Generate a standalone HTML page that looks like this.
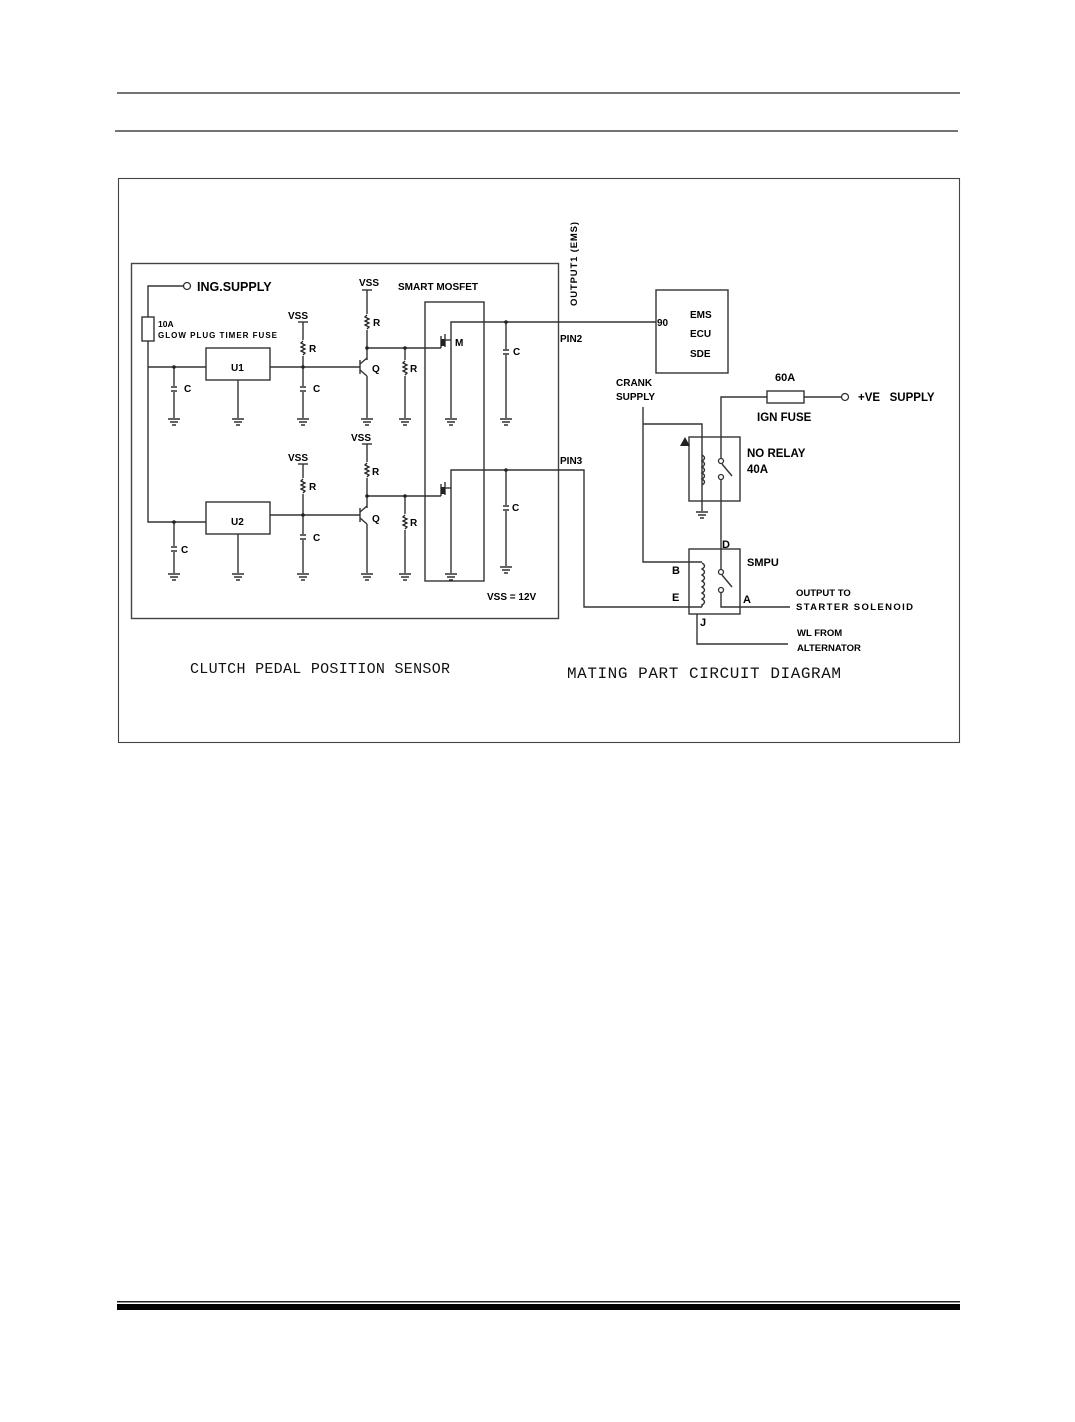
<!DOCTYPE html>
<html><head><meta charset="utf-8"><style>
html,body{margin:0;padding:0;background:#fff;width:1075px;height:1422px;overflow:hidden}
svg{display:block}
text{font-family:"Liberation Sans",sans-serif;font-weight:bold;fill:#000}
.m{font-family:"Liberation Mono",monospace;font-weight:normal;fill:#111}
</style></head><body>
<svg width="1075" height="1422" viewBox="0 0 1075 1422" xmlns="http://www.w3.org/2000/svg">
<defs>
<g id="gnd" stroke="#222" stroke-width="1.4"><line x1="-6" y1="0" x2="6" y2="0"/><line x1="-4" y1="3" x2="4" y2="3"/><line x1="-2" y1="6" x2="2" y2="6"/></g>
<g id="res" fill="none" stroke="#222" stroke-width="1.3"><polyline points="0,-7 -2,-5 2,-3 -2,-1 2,1 -2,3 2,5 0,7"/></g>
<g id="cap" stroke="#222" stroke-width="1.4"><line x1="-3" y1="-2" x2="3" y2="-2"/><line x1="-3" y1="2" x2="3" y2="2"/></g>
</defs>
<line x1="117" y1="93" x2="960" y2="93" stroke="#222" stroke-width="1.2"/>
<line x1="115" y1="131" x2="958" y2="131" stroke="#222" stroke-width="1.2"/>
<rect x="118.5" y="178.5" width="841" height="564" fill="none" stroke="#444" stroke-width="1.1"/>
<rect x="131.5" y="263.5" width="427" height="355" fill="none" stroke="#444" stroke-width="1.4"/>

<g stroke="#333" stroke-width="1.4" fill="none">
<polyline points="183,286 148,286 148,522 206,522"/>
<rect x="142" y="317" width="12" height="24" fill="#fff"/>
<line x1="148" y1="367" x2="206" y2="367"/>
<rect x="206" y="348" width="64" height="32"/>
<line x1="174" y1="367" x2="174" y2="418"/>
<line x1="238" y1="380" x2="238" y2="418"/>
<line x1="270" y1="367" x2="360" y2="367"/>
<line x1="303" y1="322" x2="303" y2="418"/>
<line x1="298" y1="322" x2="308" y2="322"/>
<line x1="367" y1="290" x2="367" y2="360"/>
<line x1="362" y1="290" x2="372" y2="290"/>
<line x1="360" y1="360" x2="360" y2="374"/>
<line x1="360" y1="364" x2="367" y2="358"/>
<line x1="360" y1="370" x2="367" y2="376"/>
<line x1="367" y1="376" x2="367" y2="418"/>
<line x1="367" y1="348" x2="441" y2="348"/>
<line x1="405" y1="348" x2="405" y2="418"/>
<polyline points="441,348 441,336"/>
<line x1="445" y1="334" x2="445" y2="347"/>
<polyline points="451,418 451,322 600,322 656,322"/>
<line x1="445" y1="340" x2="451" y2="340"/>
<line x1="506" y1="322" x2="506" y2="418"/>
<rect x="206" y="502" width="64" height="32"/>
<line x1="174" y1="522" x2="174" y2="573"/>
<line x1="238" y1="534" x2="238" y2="573"/>
<line x1="270" y1="515" x2="360" y2="515"/>
<line x1="303" y1="464" x2="303" y2="573"/>
<line x1="298" y1="464" x2="308" y2="464"/>
<line x1="367" y1="444" x2="367" y2="508"/>
<line x1="362" y1="444" x2="372" y2="444"/>
<line x1="360" y1="508" x2="360" y2="522"/>
<line x1="360" y1="512" x2="367" y2="506"/>
<line x1="360" y1="518" x2="367" y2="524"/>
<line x1="367" y1="524" x2="367" y2="573"/>
<line x1="367" y1="496" x2="441" y2="496"/>
<line x1="405" y1="496" x2="405" y2="573"/>
<polyline points="441,496 441,484"/>
<line x1="445" y1="482" x2="445" y2="495"/>
<polyline points="451,573 451,470 584,470 584,607 702,607"/>
<line x1="445" y1="488" x2="451" y2="488"/>
<line x1="506" y1="470" x2="506" y2="566"/>
<rect x="425" y="302" width="59" height="279"/>
<rect x="656" y="290" width="72" height="83"/>
<polyline points="643,407 643,562 702,562"/>
<polyline points="643,424 702,424 702,511"/>
<rect x="689" y="437" width="51" height="64"/>
<rect x="689" y="549" width="51" height="65"/>
<polyline points="721,458 721,397 767,397"/>
<rect x="767" y="391" width="37" height="12"/>
<line x1="804" y1="397" x2="841" y2="397"/>
<line x1="722" y1="464" x2="732" y2="476"/>
<line x1="721" y1="480" x2="721" y2="569"/>
<line x1="722" y1="575" x2="732" y2="587"/>
<polyline points="721,593 721,607 790,607"/>
<polyline points="697,614 697,644 788,644"/>
<path d="M702,455 q5,3 0,6 q5,3 0,6 q5,3 0,6 q5,3 0,6 q5,3 0,6"/>
<path d="M702,563 q5,3 0,6 q5,3 0,6 q5,3 0,6 q5,3 0,6 q5,3 0,6 q5,3 0,6 q5,3 0,6"/>
<line x1="702" y1="604" x2="702" y2="607"/>
</g>
<g fill="#fff" stroke="#333" stroke-width="1.3">
<circle cx="187" cy="286" r="3.5"/>
<circle cx="845" cy="397" r="3.5"/>
<circle cx="721" cy="461" r="2.5"/><circle cx="721" cy="477" r="2.5"/>
<circle cx="721" cy="572" r="2.5"/><circle cx="721" cy="590" r="2.5"/>
</g>
<g fill="#222">
<circle cx="174" cy="367" r="1.8"/><circle cx="303" cy="367" r="1.8"/><circle cx="367" cy="348" r="1.8"/><circle cx="405" cy="348" r="1.8"/><circle cx="506" cy="322" r="1.8"/>
<circle cx="174" cy="522" r="1.8"/><circle cx="303" cy="515" r="1.8"/><circle cx="367" cy="496" r="1.8"/><circle cx="405" cy="496" r="1.8"/><circle cx="506" cy="470" r="1.8"/>
<rect x="441" y="339" width="4" height="7"/><rect x="441" y="487" width="4" height="7"/>
<polygon points="680,446 685,437 690,446"/>
</g>
<g fill="#fff"><rect x="299" y="340" width="8" height="16"/><rect x="363" y="314" width="8" height="16"/><rect x="401" y="360" width="8" height="16"/>
<rect x="299" y="478" width="8" height="16"/><rect x="363" y="462" width="8" height="16"/><rect x="401" y="514" width="8" height="16"/>
<rect x="170" y="386" width="8" height="6"/><rect x="299" y="386" width="8" height="6"/><rect x="502" y="349" width="8" height="6"/>
<rect x="170" y="546" width="8" height="6"/><rect x="299" y="534" width="8" height="6"/><rect x="502" y="505" width="8" height="6"/></g>
<use href="#res" x="303" y="348"/><use href="#res" x="367" y="322"/><use href="#res" x="405" y="368"/>
<use href="#res" x="303" y="486"/><use href="#res" x="367" y="470"/><use href="#res" x="405" y="522"/>
<use href="#cap" x="174" y="389"/><use href="#cap" x="303" y="389"/><use href="#cap" x="506" y="352"/>
<use href="#cap" x="174" y="549"/><use href="#cap" x="303" y="537"/><use href="#cap" x="506" y="508"/>
<use href="#gnd" x="174" y="419"/><use href="#gnd" x="238" y="419"/><use href="#gnd" x="303" y="419"/><use href="#gnd" x="367" y="419"/><use href="#gnd" x="405" y="419"/><use href="#gnd" x="451" y="419"/><use href="#gnd" x="506" y="419"/>
<use href="#gnd" x="174" y="574"/><use href="#gnd" x="238" y="574"/><use href="#gnd" x="303" y="574"/><use href="#gnd" x="367" y="574"/><use href="#gnd" x="405" y="574"/><use href="#gnd" x="451" y="574"/><use href="#gnd" x="506" y="567"/>
<use href="#gnd" x="702" y="512"/>

<text x="197" y="291" font-size="12.5">ING.SUPPLY</text>
<text x="158" y="327" font-size="8.5">10A</text>
<text x="158" y="338" font-size="8" textLength="119">GLOW PLUG TIMER FUSE</text>
<text x="231" y="371" font-size="10">U1</text>
<text x="231" y="525" font-size="10">U2</text>
<text x="288" y="319" font-size="10">VSS</text>
<text x="288" y="461" font-size="10">VSS</text>
<text x="359" y="286" font-size="10">VSS</text>
<text x="351" y="441" font-size="10">VSS</text>
<text x="398" y="290" font-size="10">SMART MOSFET</text>
<g font-size="10">
<text x="309" y="352">R</text><text x="373" y="326">R</text><text x="410" y="372">R</text>
<text x="309" y="490">R</text><text x="372" y="475">R</text><text x="410" y="526">R</text>
<text x="184" y="392">C</text><text x="313" y="392">C</text><text x="513" y="355">C</text>
<text x="181" y="553">C</text><text x="313" y="541">C</text><text x="512" y="511">C</text>
<text x="372" y="372">Q</text><text x="372" y="522">Q</text><text x="455" y="346">M</text>
</g>
<text x="487" y="600" font-size="10">VSS = 12V</text>
<text x="0" y="0" font-size="9.5" transform="translate(577,306) rotate(-90)" textLength="84">OUTPUT1 (EMS)</text>
<text x="560" y="342" font-size="10">PIN2</text>
<text x="560" y="464" font-size="10">PIN3</text>
<text x="657" y="326" font-size="10">90</text>
<text x="690" y="318" font-size="10">EMS</text>
<text x="690" y="337" font-size="10">ECU</text>
<text x="690" y="357" font-size="10">SDE</text>
<text x="616" y="386" font-size="10">CRANK</text>
<text x="616" y="400" font-size="10">SUPPLY</text>
<text x="775" y="381" font-size="11">60A</text>
<text x="757" y="421" font-size="11.5">IGN FUSE</text>
<text x="858" y="401" font-size="11.5">+VE&#160;&#160;&#160;SUPPLY</text>
<text x="747" y="457" font-size="11.5">NO RELAY</text>
<text x="747" y="473" font-size="11.5">40A</text>
<text x="722" y="548" font-size="11">D</text>
<text x="747" y="566" font-size="11">SMPU</text>
<text x="672" y="574" font-size="11">B</text>
<text x="672" y="601" font-size="11">E</text>
<text x="743" y="603" font-size="11">A</text>
<text x="700" y="626" font-size="11">J</text>
<text x="796" y="596" font-size="9.5">OUTPUT TO</text>
<text x="796" y="610" font-size="9.5" textLength="117">STARTER SOLENOID</text>
<text x="797" y="636" font-size="9.5">WL FROM</text>
<text x="797" y="651" font-size="9.5">ALTERNATOR</text>
<text class="m" x="190" y="673" font-size="15" textLength="260">CLUTCH PEDAL POSITION SENSOR</text>
<text class="m" x="567" y="678" font-size="16" textLength="274">MATING PART CIRCUIT DIAGRAM</text>
<rect x="117" y="1301" width="843" height="1.5" fill="#222"/>
<rect x="117" y="1304" width="843" height="6" fill="#000"/>
</svg>
</body></html>
